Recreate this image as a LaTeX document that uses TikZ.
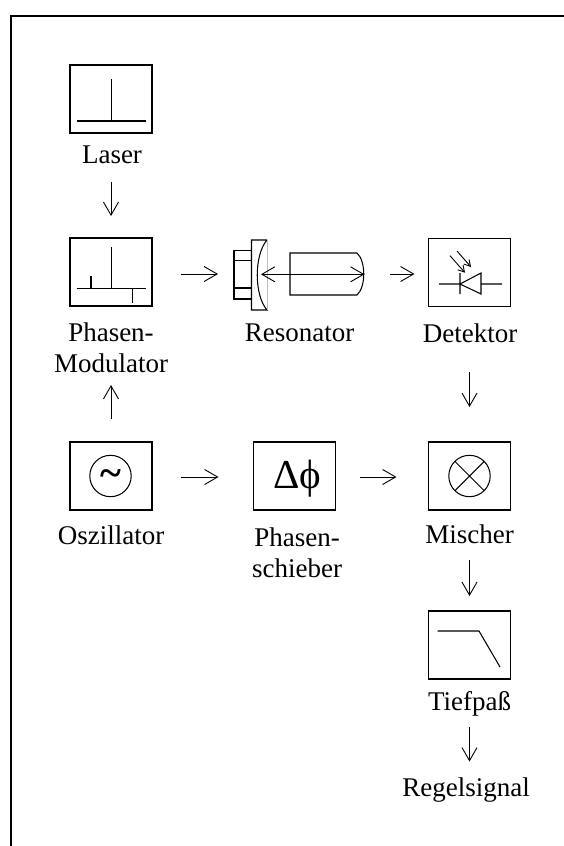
\documentclass[tikz,border=0pt]{standalone}
\usepackage{fontspec}
\setmainfont{Liberation Serif}
\usetikzlibrary{arrows.meta}
\tikzset{
  x=1pt,y=-1pt,
  box/.style={draw,line width=1.05pt,minimum width=82pt,minimum height=68pt,inner sep=0pt,outer sep=0pt},
  lab/.style={inner sep=0pt,align=center,font=\fontsize{27pt}{30.5pt}\selectfont},
  thin line/.style={line width=1.05pt},
  barb/.tip={Straight Barb[length=13pt,width=15pt,line width=0.9pt]},
  arr/.style={line width=0.9pt,-barb},
}
\begin{document}
\begin{tikzpicture}
\useasboundingbox (0,0) rectangle (564,846);
\draw[line width=2pt] (11,846) -- (11,15.5) -- (564,15.5);
% boxes
\node[box] (laser) at (111,99) {};
\node[box] (mod) at (111,272) {};
\node[box] (det) at (469.5,272.5) {};
\node[box] (osc) at (111,476) {};
\node[box] (shift) at (294.5,476) {};
\node[box] (mix) at (469.5,476) {};
\node[box] (tp) at (469.5,645) {};
\node[minimum width=130pt,minimum height=70pt,inner sep=0pt,outer sep=0pt] (res) at (299,275) {};
% labels
\node[lab] (tlaser) at (112,155) {Laser};
\node[lab] (tmod) at (111,348) {Phasen-\\Modulator};
\node[lab] (tres) at (299.5,333) {Resonator};
\node[lab] (tdet) at (470,333) {Detektor};
\node[lab] (tosc) at (111,535) {Oszillator};
\node[lab] (tshift) at (297,553) {Phasen-\\schieber};
\node[lab] (tmix) at (469.5,534.5) {Mischer};
\node[lab] (ttp) at (469.5,704) {Tiefpaß};
\node[lab] (treg) at (466,790) {Regelsignal};
% symbols
\draw[thin line] (77,121) -- (146,121) (111.5,79) -- (111.5,121);
\draw[thin line] (77,288.7) -- (146,288.7) (111.5,247) -- (111.5,288.7) (91,276) -- (91,288.7) (132.5,288.7) -- (132.5,303);
% resonator
\draw[thin line] (234,250.7) rectangle (251.5,299) (234,260.7) -- (251.5,260.7) (234,288) -- (251.5,288);
\draw[thin line] (267,240) -- (251.5,240) -- (251.5,310) -- (267,310) .. controls (254,295) and (254,255) .. (267,240);
\draw[line width=0.3pt,gray!50] (267,240) -- (267,310);
\draw[thin line] (357,253) -- (290,253) -- (290,295) -- (357,295) .. controls (366,287) and (366,261) .. (357,253);
\draw[line width=0.9pt,barb-barb] (261,274.3) -- (364.5,274.3);
% diode
\draw[thin line] (439,284) -- (460,284) (460,273) -- (460,294) (460,284) -- (481,273) -- (481,294) -- cycle (481,284) -- (502,284);
\draw[line width=0.9pt,-{Straight Barb[length=6pt,width=7pt,line width=0.9pt]}] (450,255.7) -- (465,272.7);
\draw[line width=0.9pt,-{Straight Barb[length=6pt,width=7pt,line width=0.9pt]}] (457,251) -- (471,267);
% oscillator
\draw[thin line] (110.5,476) circle (20.7);
\node[inner sep=0pt,font=\fontsize{40pt}{40pt}\selectfont\bfseries] at (110.5,478) {\char"7E};
% phase
\node[inner sep=0pt,font=\fontsize{41pt}{41pt}\selectfont] at ([xshift=2.5pt,yshift=-3pt]shift.center) {Δϕ};
% mixer
\draw[thin line] (mix.center) circle (20.7) (mix.center) ++(-14.6,-14.6) -- ++(29.2,29.2) (mix.center) ++(-14.6,14.6) -- ++(29.2,-29.2);
% lowpass
\draw[thin line] (437.5,631) -- (479,631) -- (500,667);
% connectors
\draw[arr] ([yshift=-49pt]laser.south) -- ([yshift=22pt]mod.north);
\draw[arr] ([yshift=23pt]osc.north) -- ([yshift=-79pt]mod.south);
\draw[arr] ([xshift=29pt,yshift=-2pt]mod.east) -- ([xshift=-16pt,yshift=1pt]res.west);
\draw[arr] ([xshift=26pt,yshift=1pt]res.east) -- ([xshift=-14pt,yshift=-1.5pt]det.west);
\draw[arr] ([yshift=-65.5pt]det.south) -- ([yshift=35pt]mix.north);
\draw[arr] ([xshift=29pt,yshift=-1pt]osc.east) -- ([xshift=-35pt,yshift=-1pt]shift.west);
\draw[arr] ([xshift=24pt,yshift=-1pt]shift.east) -- ([xshift=-32pt,yshift=-1pt]mix.west);
\draw[arr] ([yshift=-50pt]mix.south) -- ([yshift=15pt]tp.north);
\draw[arr] ([yshift=-48pt]tp.south) -- ([xshift=3.5pt,yshift=16pt]treg.north);
\end{tikzpicture}
\end{document}
